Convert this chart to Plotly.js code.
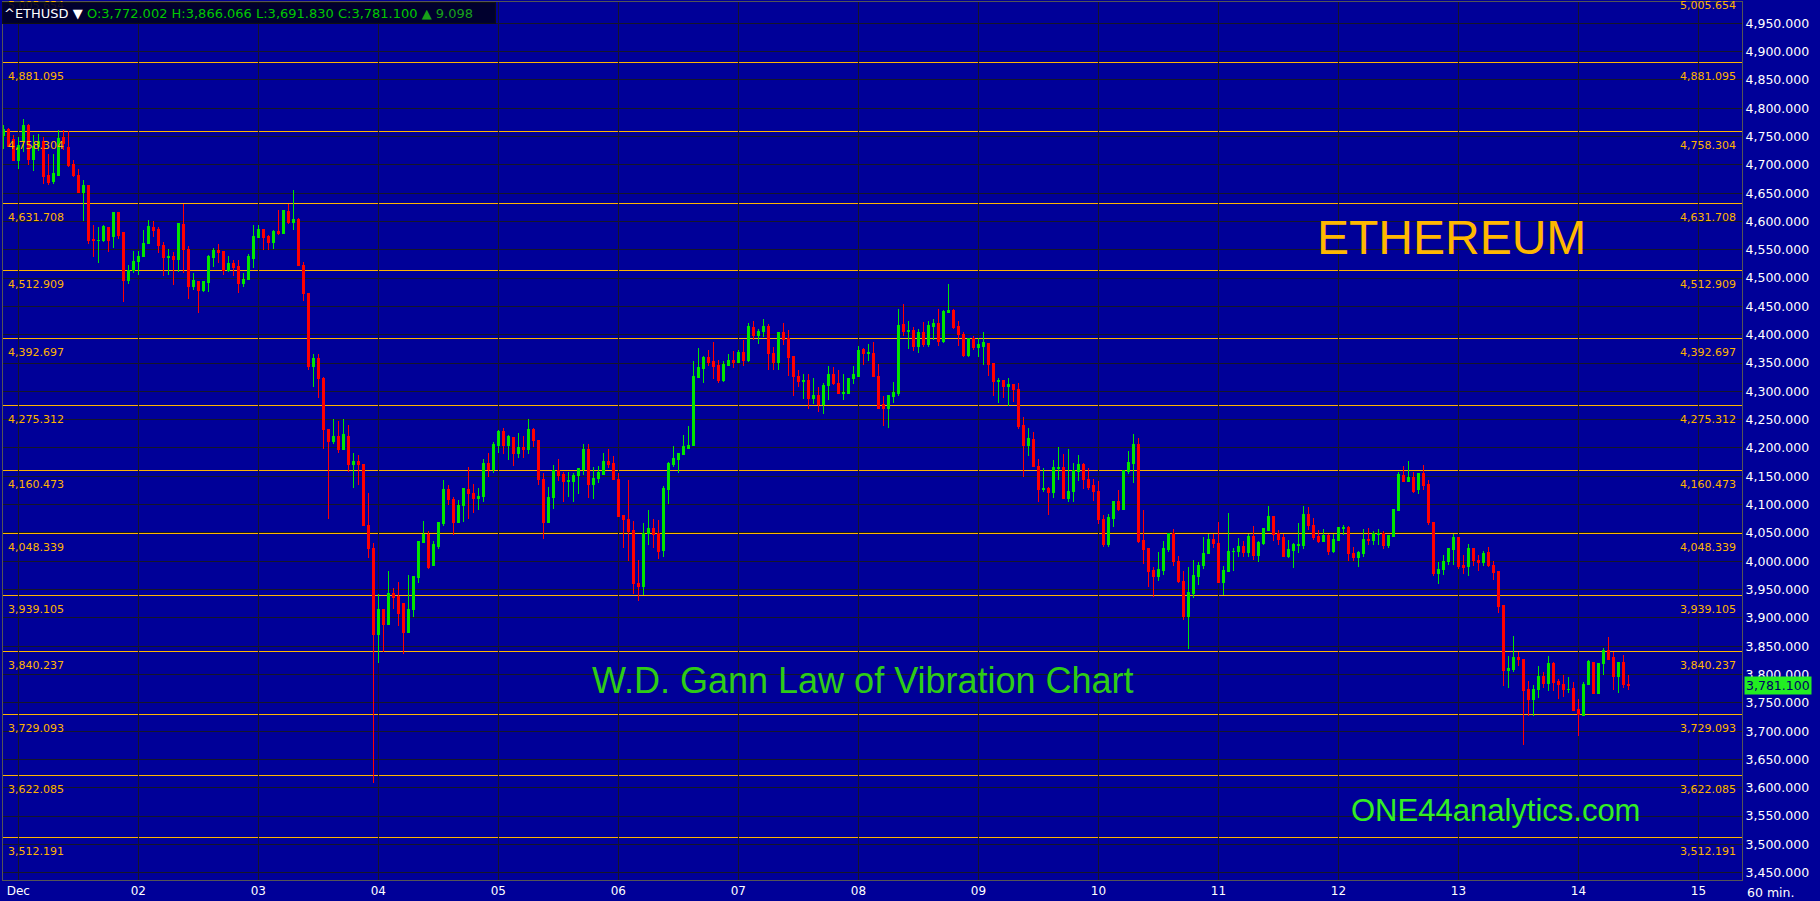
<!DOCTYPE html>
<html><head><meta charset="utf-8">
<script src="https://cdn.plot.ly/plotly-3.0.1.min.js"></script>
<style>
html,body{margin:0;padding:0;background:#000098;overflow:hidden}
#chart svg path{shape-rendering:crispEdges !important}
</style>
</head><body><div id="chart" style="width:1820px;height:901px"></div>
<script>
// ---- hourly ETHUSD bars, first bar Nov 30 21:00 ----
const firstBar = [2021, 10, 30, 21];
const opens = [4752,4763,4744,4707,4741,4769,4709,4732,4741,4681,4670,4681,4748,
4730,4700,4682,4651,4663,4569,4566,4566,4590,4574,
4615,4580,4495,4513,4529,4538,4561,4590,4585,4558,
4536,4539,4532,4594,4550,4485,4494,4479,4492,4536,
4548,4547,4514,4525,4520,4491,4497,4535,4572,4585,
4573,4563,4583,4578,4617,4598,4604,4523,4473,4344,
4358,4323,4233,4211,4221,4198,4221,4171,4176,4170,
4064,4023,3871,3915,3888,3943,3937,3926,3874,3915,
3971,4033,4048,3992,4026,4067,4127,4109,4068,4098,
4126,4120,4110,4114,4173,4162,4205,4229,4204,4219,
4190,4201,4197,4232,4214,4145,4068,4112,4161,4154,
4141,4141,4151,4162,4198,4135,4146,4154,4177,4172,
4145,4080,4074,4055,3961,3955,4049,4058,4049,4019,
4126,4170,4179,4188,4199,4204,4324,4340,4360,4353,
4345,4319,4345,4354,4351,4368,4355,4413,4398,4405,
4414,4367,4351,4404,4394,4361,4327,4317,4319,4287,
4292,4276,4310,4329,4314,4297,4297,4322,4327,4374,
4367,4367,4327,4276,4269,4291,4297,4418,4406,4408,
4379,4404,4382,4415,4419,4388,4439,4442,4415,4401,
4363,4394,4377,4380,4385,4350,4317,4320,4308,4312,
4304,4239,4204,4215,4168,4126,4128,4121,4164,4166,
4110,4123,4158,4170,4145,4133,4124,4073,4029,4076,
4105,4092,4158,4172,4207,4036,4022,3983,3973,3983,
4020,4049,3999,3965,3902,3943,3973,3992,4013,4038,
4032,3963,3982,4017,4017,4026,4015,4044,4011,4032,
4055,4079,4049,4042,4008,4019,4028,4028,4083,4064,
4043,4035,4046,4017,4036,4057,4059,4014,4006,4014,
4039,4036,4048,4049,4027,4043,4089,4152,4141,4148,
4126,4155,4135,4069,3978,3985,3999,4020,4042,3993,
3990,4023,4002,3998,4015,3993,3982,3921,3807,3809,
3830,3827,3774,3755,3773,3797,3784,3820,3787,3783,
3773,3775,3739,3727,3782,3822,3767,3819,3843,3830,
3797,3822,3782];
const highs = [4770,4765,4753,4750,4781,4773,4753,4755,4750,4720,4719,4762,4762,
4759,4709,4693,4673,4665,4594,4591,4594,4591,4616,
4616,4580,4524,4548,4548,4585,4602,4600,4591,4564,
4551,4547,4598,4631,4557,4509,4494,4494,4541,4554,
4560,4547,4539,4532,4532,4509,4543,4594,4594,4586,
4576,4585,4620,4619,4631,4655,4606,4528,4474,4366,
4366,4325,4233,4251,4248,4252,4241,4191,4188,4172,
4120,4033,3942,3915,3983,3952,3964,3926,3976,3973,
4035,4071,4053,4036,4069,4144,4135,4113,4108,4129,
4166,4136,4129,4180,4191,4211,4232,4236,4223,4219,
4226,4221,4251,4235,4214,4156,4131,4170,4180,4157,
4158,4155,4165,4207,4207,4167,4168,4192,4198,4185,
4155,4082,4144,4071,4002,4067,4091,4074,4073,4133,
4175,4204,4192,4223,4238,4354,4376,4363,4373,4388,
4355,4354,4366,4371,4373,4390,4421,4425,4410,4428,
4419,4379,4404,4421,4408,4361,4338,4331,4331,4323,
4307,4315,4345,4343,4338,4331,4323,4345,4380,4377,
4384,4388,4348,4291,4294,4317,4445,4454,4424,4414,
4410,4423,4424,4428,4445,4443,4490,4445,4424,4405,
4394,4397,4394,4405,4386,4350,4323,4320,4323,4312,
4314,4254,4235,4229,4180,4164,4131,4179,4202,4190,
4198,4174,4188,4173,4164,4145,4142,4082,4083,4107,
4126,4160,4194,4225,4217,4091,4023,3989,4017,4035,
4049,4057,4009,3982,3989,4002,3998,4042,4049,4049,
4069,3992,4085,4024,4041,4035,4049,4062,4036,4057,
4098,4080,4055,4049,4038,4032,4068,4098,4095,4077,
4055,4057,4048,4048,4061,4064,4062,4026,4018,4057,
4059,4053,4057,4053,4045,4091,4158,4169,4177,4158,
4155,4170,4144,4070,3998,4011,4024,4048,4042,4011,
4031,4023,4011,4018,4025,4000,3982,3921,3832,3868,
3839,3827,3789,3782,3815,3805,3833,3822,3792,3800,
3796,3786,3756,3786,3825,3822,3820,3847,3866,3840,
3822,3835,3800];
const lows = [4728,4731,4706,4693,4723,4700,4690,4725,4667,4665,4667,4681,4726,
4697,4679,4650,4600,4560,4538,4526,4563,4547,4553,
4569,4457,4489,4509,4506,4538,4561,4573,4544,4503,
4506,4488,4511,4509,4463,4479,4439,4476,4476,4520,
4527,4506,4511,4504,4474,4484,4497,4517,4572,4549,
4550,4551,4576,4578,4596,4585,4522,4460,4337,4308,
4289,4198,4074,4207,4192,4197,4157,4129,4135,4063,
4005,3608,3820,3839,3888,3915,3885,3837,3874,3902,
3961,4033,3986,3991,4022,4063,4099,4046,4068,4070,
4075,4086,4091,4104,4148,4156,4192,4189,4179,4168,
4182,4183,4190,4201,4135,4039,4068,4092,4141,4104,
4114,4105,4119,4152,4112,4110,4139,4152,4164,4144,
4079,4024,4001,3942,3929,3940,4029,4024,4004,4008,
4101,4167,4156,4188,4199,4204,4324,4315,4345,4321,
4314,4317,4345,4342,4350,4345,4351,4391,4383,4396,
4337,4337,4337,4382,4328,4291,4308,4287,4269,4278,
4264,4260,4285,4311,4295,4285,4297,4313,4325,4347,
4354,4326,4270,4238,4236,4279,4292,4398,4375,4372,
4368,4378,4378,4391,4381,4386,4439,4410,4381,4361,
4360,4373,4360,4347,4327,4291,4280,4289,4274,4282,
4233,4149,4185,4167,4104,4123,4081,4112,4144,4110,
4105,4104,4142,4128,4125,4107,4066,4025,4025,4061,
4089,4091,4154,4139,4032,3995,3955,3936,3966,3975,
4016,3992,3962,3896,3845,3935,3958,3986,4013,4023,
3961,3941,3982,3982,4007,4008,4007,4002,3998,4029,
4054,4036,4028,4007,4005,3988,4014,4021,4056,4038,
4032,4035,4011,4015,4036,4046,4001,4001,3990,4008,
4029,4029,4029,4022,4023,4043,4089,4141,4141,4121,
4119,4126,4064,3974,3960,3976,3993,3993,3986,3978,
3974,3992,3983,3992,3990,3967,3909,3779,3777,3805,
3815,3676,3726,3726,3759,3777,3770,3770,3756,3761,
3768,3736,3692,3727,3782,3767,3766,3799,3827,3773,
3768,3777,3773];
const closes = [4763,4732,4707,4734,4769,4709,4732,4741,4679,4669,4684,4747,4738,
4699,4681,4651,4663,4567,4566,4567,4591,4566,4615,
4576,4495,4514,4530,4539,4561,4591,4584,4557,4536,
4539,4532,4596,4550,4485,4495,4479,4494,4538,4548,
4545,4514,4525,4519,4490,4498,4538,4573,4585,4572,
4563,4583,4578,4619,4598,4603,4522,4473,4344,4358,
4323,4233,4211,4221,4198,4223,4171,4176,4170,4064,
4023,3870,3915,3888,3943,3936,3908,3874,3915,3973,
4035,4047,3989,4029,4069,4127,4109,4068,4099,4128,
4119,4110,4115,4173,4162,4207,4229,4204,4220,4190,
4201,4198,4232,4213,4144,4068,4113,4160,4152,4141,
4142,4151,4164,4198,4135,4147,4157,4177,4170,4144,
4079,4074,4053,3961,3955,4049,4058,4048,4017,4128,
4172,4181,4191,4202,4205,4326,4342,4360,4351,4344,
4319,4347,4354,4351,4368,4355,4415,4398,4406,4414,
4367,4351,4404,4392,4360,4326,4317,4319,4287,4292,
4276,4310,4329,4314,4297,4298,4323,4329,4373,4367,
4368,4326,4270,4269,4292,4298,4417,4406,4408,4379,
4404,4382,4417,4419,4388,4441,4442,4413,4400,4364,
4394,4377,4382,4386,4348,4317,4320,4308,4312,4304,
4238,4204,4217,4167,4127,4128,4121,4166,4166,4110,
4124,4160,4170,4145,4131,4123,4074,4029,4077,4105,
4092,4160,4174,4207,4034,4020,3982,3973,3985,4022,
4049,3999,3964,3902,3945,3974,3993,4014,4038,4031,
3963,3983,4018,4018,4026,4015,4044,4011,4033,4057,
4079,4048,4039,4008,4020,4029,4029,4082,4063,4042,
4035,4046,4017,4038,4059,4059,4014,4006,4015,4039,
4036,4049,4049,4027,4045,4091,4154,4141,4148,4124,
4155,4134,4068,3978,3986,4000,4022,4042,3991,3989,
4023,4001,3998,4014,3992,3980,3920,3807,3811,3830,
3826,3772,3755,3774,3797,3784,3820,3786,3782,3773,
3774,3736,3729,3783,3823,3767,3820,3843,3827,3797,
3822,3782,3781.1];

// Gann "Law of Vibration" levels
const gannLevels = [5005.654,4881.095,4758.304,4631.708,4512.909,4392.697,4275.312,
  4160.473,4048.339,3939.105,3840.237,3729.093,3622.085,3512.191];

// x-axis day labels
const dayLabels = ['Dec','02','03','04','05','06','07','08','09','10','11','12','13','14','15'];

// header quote
const symbol = '^ETHUSD';
const quoteO = '3,772.002', quoteH = '3,866.066', quoteL = '3,691.830', quoteC = '3,781.100';
const quoteChg = '9.098';
const lastPrice = 3781.1;

const titleMain = 'ETHEREUM';
const titleSub = 'W.D. Gann Law of Vibration Chart';
const siteText = 'ONE44analytics.com';
const barText = '60 min.';

// ---- build ----
const HOUR = 3600000;
function fmt(ms){ return new Date(ms).toISOString().slice(0,19).replace('T',' '); }
const t0 = Date.UTC(firstBar[0], firstBar[1], firstBar[2], firstBar[3]);
const times = opens.map((_, i) => fmt(t0 + i*HOUR));
const day0 = Date.UTC(2021, 11, 1);
const tickvals = dayLabels.map((_, i) => fmt(day0 + i*24*HOUR));

const yRange = [3437.1, 4987.6];
const plotH = 878;
const pxPerUnit = plotH / (yRange[1] - yRange[0]);

const GOLD = '#FFB400';
const FONT = 'DejaVu Sans, Verdana, sans-serif';

const shapes = gannLevels.map(v => ({
  type:'line', xref:'paper', x0:0, x1:1, yref:'y', y0:v, y1:v,
  line:{color:GOLD, width:1}, layer:'between'
}));

function fmtLevel(v){ return v.toLocaleString('en-US',{minimumFractionDigits:3, maximumFractionDigits:3}); }

const annotations = [];
gannLevels.forEach(v => {
  const yy = Math.min(v, yRange[1]);
  const shift = -14 + (v - yy) * pxPerUnit;
  [['left',0,3],['right',1,-4]].forEach(([anc, xp, xs]) => {
    annotations.push({xref:'paper', x:xp, xanchor:anc, xshift:xs, yref:'y', y:yy, yanchor:'middle',
      yshift:shift, text:fmtLevel(v), showarrow:false, font:{family:FONT, size:11, color:GOLD}});
  });
});

annotations.push({xref:'paper', x:0.8332, y:0.7323, yref:'paper', xanchor:'center', yanchor:'middle',
  text:titleMain, showarrow:false, font:{family:'Liberation Sans, Arial, sans-serif', size:48, color:'#FFB800'}});
annotations.push({xref:'paper', x:0.4945, y:0.2267, yref:'paper', xanchor:'center', yanchor:'middle',
  text:titleSub, showarrow:false, font:{family:'Liberation Sans, Arial, sans-serif', size:36, color:'#2ECC16'}});
annotations.push({xref:'paper', x:0.8585, y:0.0797, yref:'paper', xanchor:'center', yanchor:'middle',
  text:siteText, showarrow:false, font:{family:'Liberation Sans, Arial, sans-serif', size:31, color:'#33EE22'}});

// last price tag
annotations.push({xref:'paper', x:1, xanchor:'left', xshift:2, yref:'y', y:lastPrice, yanchor:'middle',
  text:lastPrice.toLocaleString('en-US',{minimumFractionDigits:3}), showarrow:false, bgcolor:'#22EE22',
  borderpad:1, font:{family:FONT, size:12.5, color:'#000066'}});
// bar interval
annotations.push({xref:'paper', x:1, xanchor:'left', xshift:3, yref:'paper', y:0, yanchor:'top', yshift:-3,
  text:barText, showarrow:false, font:{family:FONT, size:12.5, color:'#FFFFFF'}});
// header
annotations.push({xref:'paper', x:0, xanchor:'left', xshift:-1, yref:'paper', y:1, yanchor:'top', yshift:0,
  text:'<span style="color:#FFFFFF">'+symbol+' ▼</span> <span style="color:#00C800">O:'+quoteO+' H:'+quoteH+
    ' L:'+quoteL+' C:'+quoteC+' </span><span style="color:#18A018">▲ '+quoteChg+'</span>',
  showarrow:false, align:'left', width:490, height:18, bgcolor:'rgba(0,0,34,0.9)', bordercolor:'#101010',
  borderwidth:1, borderpad:1, font:{family:FONT, size:13, color:'#FFFFFF'}});

const trace = {
  type:'candlestick', x:times, open:opens, high:highs, low:lows, close:closes,
  increasing:{line:{color:'#00E600', width:1}, fillcolor:'#00E600'},
  decreasing:{line:{color:'#FF0000', width:1}, fillcolor:'#FF0000'},
  whiskerwidth:0, hoverinfo:'skip'
};

const layout = {
  width:1820, height:901,
  margin:{l:3, r:78, t:2, b:21, pad:0},
  paper_bgcolor:'#000098', plot_bgcolor:'#000098',
  showlegend:false, hovermode:false, boxgap:0.35,
  xaxis:{type:'date', range:[fmt(day0 - 3.06*HOUR), fmt(day0 + 344.7*HOUR)],
    rangeslider:{visible:false}, tickmode:'array', tickvals:tickvals, ticktext:dayLabels,
    showgrid:true, gridcolor:'#16162a', gridwidth:1, zeroline:false, ticks:'',
    tickfont:{family:FONT, size:12, color:'#FFFFFF'},
    showline:true, linecolor:'#555555', linewidth:1, mirror:true, fixedrange:true},
  yaxis:{side:'right', range:yRange, tick0:3450, dtick:50, tickformat:',.3f',
    showgrid:true, gridcolor:'#16162a', gridwidth:1, zeroline:false, ticks:'',
    tickfont:{family:FONT, size:12.5, color:'#FFFFFF'},
    showline:true, linecolor:'#555555', linewidth:1, mirror:true, fixedrange:true},
  shapes:shapes, annotations:annotations
};

Plotly.newPlot('chart', [trace], layout, {displayModeBar:false, staticPlot:true});
</script></body></html>
